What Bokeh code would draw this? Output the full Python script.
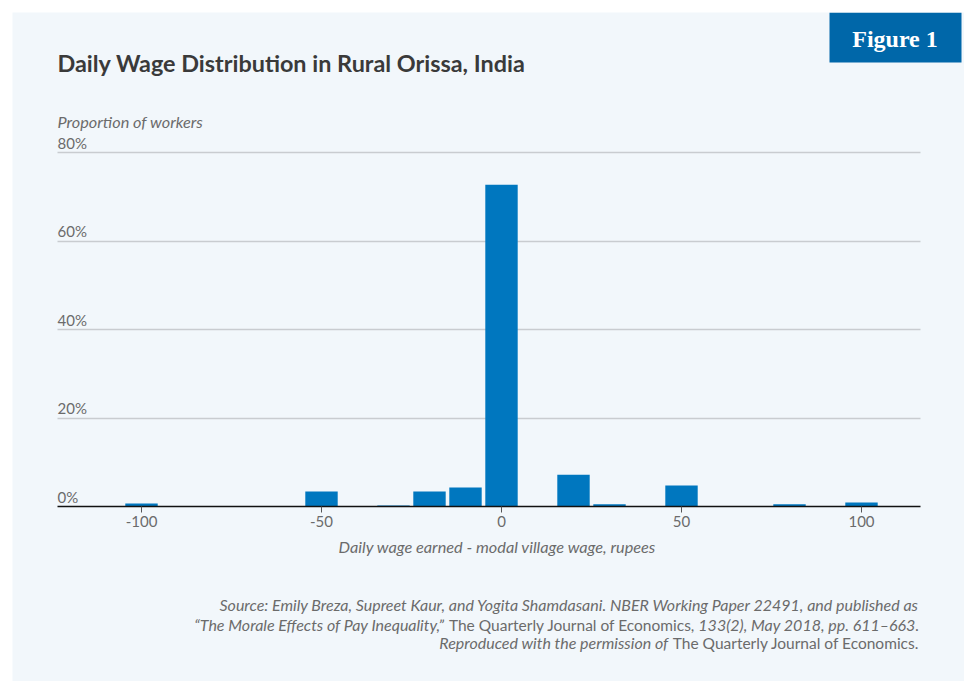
from bokeh.plotting import figure
from bokeh.models import Label, Range1d, FixedTicker, BoxAnnotation, Grid
from bokeh.embed import file_html
from bokeh.resources import INLINE

# ---- data ----
wage_bins = [-100, -50, -30, -20, -10, 0, 20, 30, 50, 80, 100]
share_pct = [0.7, 3.4, 0.25, 3.4, 4.3, 72.7, 7.2, 0.5, 4.75, 0.5, 0.9]
x_ticks = [-100, -50, 0, 50, 100]
y_ticks = [0, 20, 40, 60, 80]
y_tick_labels = ["0%", "20%", "40%", "60%", "80%"]

PANEL = "#f2f7fb"
BAR = "#0077bf"
BADGE = "#0067a9"
GREY = "#6b6b6b"
FONT = "Lato"

# ---- layout (page pixels) ----
OX, OY = 12, 12            # canvas origin on page
W, H = 952, 669            # canvas size
X0_PX, X_PER = 501, 3.6    # page x of wage 0, px per rupee
Y0_PX, Y_PER = 506, 4.425  # page y of 0%, px per percentage point
AX_L, AX_R = 57, 920       # plot area left / right on page

x_start = (OX - X0_PX) / X_PER
x_end = (OX + W - X0_PX) / X_PER
y_start = -(OY + H - Y0_PX) / Y_PER
y_end = (Y0_PX - OY) / Y_PER
ax_bounds = ((AX_L - X0_PX) / X_PER, (AX_R - X0_PX) / X_PER)

p = figure(width=W, height=H, output_backend="svg", toolbar_location=None,
           x_range=Range1d(x_start, x_end), y_range=Range1d(y_start, y_end),
           y_axis_location=None,
           min_border_left=0, min_border_right=0, min_border_top=0,
           min_border_bottom=0)
p.margin = (OY, 0, 0, OX)
p.background_fill_color = PANEL
p.border_fill_color = PANEL
p.outline_line_color = None

# grid lines
p.xgrid.visible = False
p.ygrid.ticker = FixedTicker(ticks=[t for t in y_ticks if t > 0])
p.ygrid.grid_line_color = "#c9ccd0"
p.ygrid.grid_line_width = 1.5
if "cross_bounds" in Grid.properties():
    p.ygrid.cross_bounds = ax_bounds
else:
    p.ygrid.visible = False
    gl = [t for t in y_ticks if t > 0]
    p.segment(x0=[ax_bounds[0]] * len(gl), x1=[ax_bounds[1]] * len(gl),
              y0=gl, y1=gl, line_color="#c9ccd0", line_width=1.5)

p.vbar(x=wage_bins, top=share_pct, width=9, bottom=0,
       fill_color=BAR, line_color=None)

# x axis, pinned at 0%
xa = p.xaxis[0]
xa.fixed_location = 0
xa.bounds = ax_bounds
xa.ticker = FixedTicker(ticks=x_ticks)
xa.major_label_overrides = {t: str(t) for t in x_ticks}
xa.axis_line_color = "#111111"
xa.axis_line_width = 1.5
xa.major_tick_out = 6
xa.major_tick_in = 0
xa.major_tick_line_color = "#555555"
xa.minor_tick_line_color = None
xa.major_label_text_font = FONT
xa.major_label_text_font_size = "15px"
xa.major_label_text_color = GREY
xa.major_label_standoff = 3


def page_label(text, px, py, size="15px", style="normal", color=GREY,
               align="left", baseline="middle", font=FONT):
    lab = Label(x=px - OX, y=OY + H - py, x_units="screen", y_units="screen",
                text=text, text_font=font, text_font_size=size,
                text_font_style=style, text_color=color, text_align=align,
                text_baseline=baseline)
    p.add_layout(lab)
    return lab


# y tick labels, above their gridlines
for t, lab in zip(y_ticks, y_tick_labels):
    p.add_layout(Label(x=ax_bounds[0], y=t, y_offset=10,
                       text=lab, text_font=FONT, text_font_size="15px",
                       text_color=GREY, text_baseline="middle"))

# titles
page_label("Daily Wage Distribution in Rural Orissa, India", 57, 62,
           size="23.4px", style="bold", color="#3a3a3a")
page_label("Proportion of workers", 57, 121, size="16.3px", style="italic")
page_label("Daily wage earned - modal village wage, rupees", 497, 546,
           size="16.3px", style="italic", align="center")

# badge
p.add_layout(BoxAnnotation(left=829 - OX, right=961 - OX, top=OY + H - 12,
                           bottom=OY + H - 62,
                           left_units="screen", right_units="screen",
                           top_units="screen", bottom_units="screen",
                           fill_color=BADGE, fill_alpha=1.0, line_color=None))
page_label("Figure 1", 894.5, 38, size="24px", style="bold", color="white",
           align="center", font="Liberation Serif")

# source note
SI, SR = "16px", "15.5px"
page_label("Source: Emily Breza, Supreet Kaur, and Yogita Shamdasani. NBER Working Paper 22491, and published as",
           919, 604, size=SI, style="italic", align="right")
page_label("133(2), May 2018, pp. 611\u2013663.", 919, 624, size=SI, style="italic", align="right")
page_label("The Quarterly Journal of Economics,", 695, 624, size=SR, align="right")
page_label("\u201cThe Morale Effects of Pay Inequality,\u201d", 444, 624, size=SI, style="italic", align="right")
page_label("The Quarterly Journal of Economics.", 919, 642, size=SR, align="right")
page_label("Reproduced with the permission of", 668, 642, size=SI, style="italic", align="right")

open("out.html", "w").write(file_html(p, INLINE))
